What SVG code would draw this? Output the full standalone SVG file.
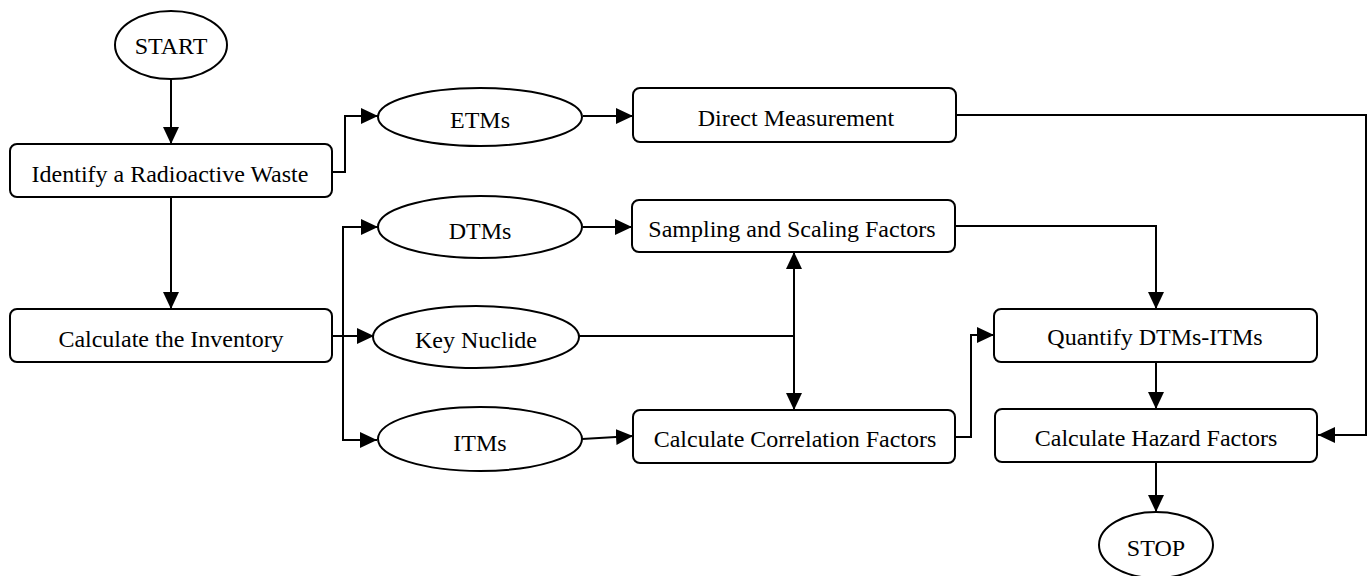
<svg xmlns="http://www.w3.org/2000/svg" width="1368" height="576" viewBox="0 0 1368 576">
<style>
.n{fill:#fff;stroke:#000;stroke-width:2}
.t{font-family:"Liberation Serif","Times New Roman",serif;font-size:24px;fill:#000;text-anchor:middle}
.c{fill:none;stroke:#000;stroke-width:2}
.a{marker-end:url(#ah)}
</style>
<defs>
<marker id="ah" markerUnits="userSpaceOnUse" markerWidth="17" markerHeight="16" refX="17" refY="8" orient="auto-start-reverse">
<path d="M0,0 L17,8 L0,16 z" fill="#000"/>
</marker>
</defs>
<rect width="1368" height="576" fill="#fff"/>
<g id="connectors">
<path class="c a" d="M171,79 V144"/>
<path class="c a" d="M332,172 H345 V116 H378"/>
<path class="c a" d="M583,116 H633"/>
<path class="c a" d="M956,115 H1366 V435 H1318"/>
<path class="c a" d="M171,197 V309"/>
<path class="c a" d="M332,336 H374"/>
<path class="c a" d="M343,336 V227 H378"/>
<path class="c a" d="M343,336 V440 H377"/>
<path class="c a" d="M583,227 H632"/>
<path class="c a" d="M955,226 H1156 V309"/>
<path class="c" d="M579,336 H794"/>
<path class="c a" d="M794,336 V252"/>
<path class="c a" d="M794,336 V410"/>
<path class="c a" d="M582,439 L633,436"/>
<path class="c a" d="M955,437 H971 V335 H994"/>
<path class="c a" d="M1156,362 V409"/>
<path class="c a" d="M1156,462 V512"/>
</g>
<g id="start"><ellipse class="n" cx="171" cy="45" rx="56" ry="34"/><text class="t" x="171" y="54">START</text></g>
<g id="identify"><rect class="n" x="10" y="144" width="322" height="53" rx="7"/><text class="t" x="170" y="182">Identify a Radioactive Waste</text></g>
<g id="inventory"><rect class="n" x="10" y="309" width="322" height="53" rx="7"/><text class="t" x="171" y="347">Calculate the Inventory</text></g>
<g id="etms"><ellipse class="n" cx="480" cy="117" rx="102" ry="29"/><text class="t" x="480" y="128">ETMs</text></g>
<g id="dtms"><ellipse class="n" cx="480" cy="227" rx="102" ry="31"/><text class="t" x="480" y="239">DTMs</text></g>
<g id="keynuclide"><ellipse class="n" cx="476" cy="337" rx="103" ry="31"/><text class="t" x="476" y="348">Key Nuclide</text></g>
<g id="itms"><ellipse class="n" cx="480" cy="439" rx="102" ry="32"/><text class="t" x="480" y="451">ITMs</text></g>
<g id="direct"><rect class="n" x="633" y="88" width="323" height="54" rx="7"/><text class="t" x="796" y="126">Direct Measurement</text></g>
<g id="sampling"><rect class="n" x="632" y="200" width="323" height="52" rx="7"/><text class="t" x="792" y="237">Sampling and Scaling Factors</text></g>
<g id="correlation"><rect class="n" x="633" y="410" width="322" height="53" rx="7"/><text class="t" x="795" y="447">Calculate Correlation Factors</text></g>
<g id="quantify"><rect class="n" x="994" y="309" width="323" height="53" rx="7"/><text class="t" x="1155" y="345">Quantify DTMs-ITMs</text></g>
<g id="hazard"><rect class="n" x="995" y="409" width="322" height="53" rx="7"/><text class="t" x="1156" y="446">Calculate Hazard Factors</text></g>
<g id="stop"><ellipse class="n" cx="1156" cy="545" rx="57" ry="33"/><text class="t" x="1156" y="556">STOP</text></g>
</svg>
